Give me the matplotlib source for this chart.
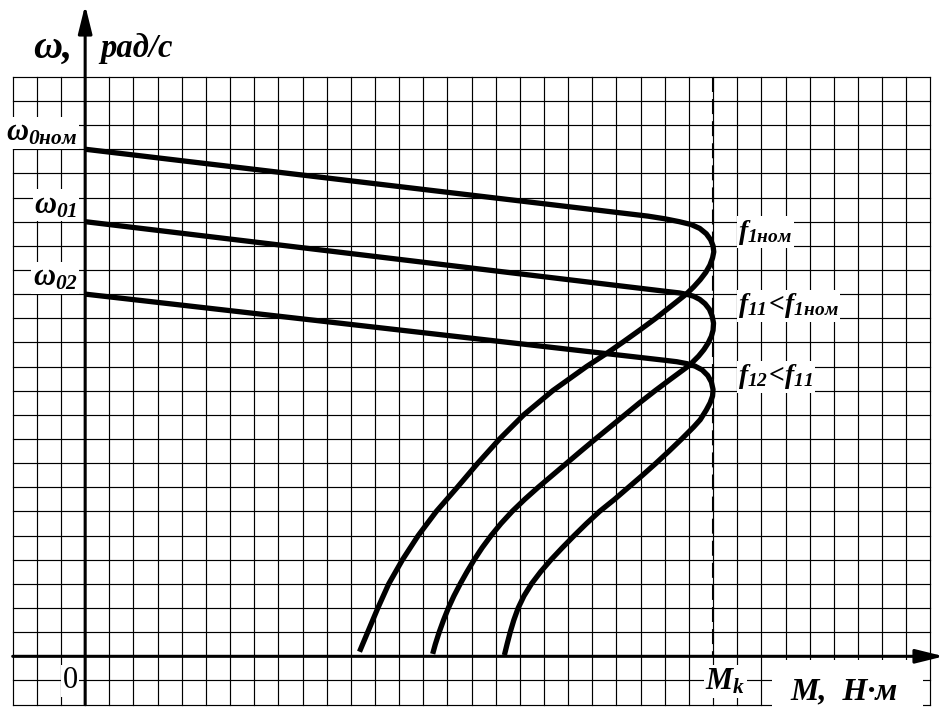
import matplotlib
matplotlib.use("Agg")
import matplotlib.pyplot as plt
from matplotlib.patches import Rectangle

# механические характеристики при частотном регулировании (в клетках сетки)
omega0 = [21, 18, 15]          # ω0ном, ω01, ω02
omega0_labels = [r"$ω_{0ном}$", r"$ω_{01}$", r"$ω_{02}$"]
m_k = 26                       # критический момент

x_f1nom = [0, 23.3, 24.0, 24.6, 25.1, 25.45, 25.72, 25.9, 26.0, 26.03, 25.98,
           25.87, 25.7, 25.47, 25.2, 24.89, 24.26, 23.63, 22.95, 22.25, 21.6,
           20.76, 19.36, 18.16, 17.16, 16.26, 15.41, 14.54, 13.79, 13.14,
           12.57, 12.12, 11.7, 11.36]
y_f1nom = [21, 18.23, 18.12, 18.0, 17.88, 17.72, 17.5, 17.25, 17.0, 16.75, 16.5,
           16.2, 15.9, 15.6, 15.3, 15.0, 14.5, 14.0, 13.5, 13.0, 12.55,
           12.0, 11.0, 10.0, 9.0, 8.0, 7.0, 6.0, 5.0, 4.0,
           3.0, 2.0, 1.0, 0.19]

x_f11 = [0, 24.08, 24.6, 24.92, 25.2, 25.45, 25.67, 25.85, 25.96, 26.02, 26.0,
         25.93, 25.8, 25.62, 25.4, 25.12, 24.95, 24.27, 23.6, 22.96, 22.35,
         21.74, 21.13, 20.53, 19.94, 19.35, 18.76, 18.2, 17.68, 17.22, 16.81,
         16.44, 16.11, 15.81, 15.53, 15.27, 15.04, 14.84, 14.66, 14.5, 14.39]
y_f11 = [18, 15.11, 15.05, 14.99, 14.91, 14.78, 14.6, 14.37, 14.1, 13.8, 13.5,
         13.25, 12.98, 12.7, 12.43, 12.15, 12.0, 11.5, 11.0, 10.5, 10.0,
         9.5, 9.0, 8.5, 8.0, 7.5, 7.0, 6.5, 6.0, 5.5, 5.0,
         4.5, 4.0, 3.5, 3.0, 2.5, 2.0, 1.5, 1.0, 0.5, 0.1]

x_f12 = [0, 24.0, 24.5, 24.92, 25.25, 25.55, 25.78, 25.93, 26.0, 25.98, 25.88,
         25.72, 25.47, 25.2, 24.7, 24.18, 23.64, 23.08, 22.5, 21.92, 21.3,
         20.76, 20.25, 19.76, 19.29, 18.86, 18.48, 18.17, 17.93, 17.75, 17.6,
         17.47, 17.36]
y_f12 = [15, 12.26, 12.2, 12.12, 12.02, 11.86, 11.63, 11.36, 11.05, 10.78, 10.5,
         10.2, 9.8, 9.5, 9.0, 8.5, 8.0, 7.5, 7.0, 6.5, 6.0,
         5.5, 5.0, 4.5, 4.0, 3.5, 3.0, 2.5, 2.0, 1.5, 1.0,
         0.5, 0.05]

curves = [(x_f1nom, y_f1nom), (x_f11, y_f11), (x_f12, y_f12)]
curve_labels = [r"$f_{1ном}$", r"$f_{11}\!<\!f_{1ном}$", r"$f_{12}\!<\!f_{11}$"]
curve_label_y = [17.3, 14.25, 11.3]

plt.rcParams["mathtext.fontset"] = "custom"
plt.rcParams["mathtext.it"] = "Liberation Serif:bold:italic"
plt.rcParams["mathtext.rm"] = "Liberation Serif:bold:italic"
plt.rcParams["mathtext.bf"] = "Liberation Serif:bold:italic"

serif = dict(family="Liberation Serif", weight="bold", style="italic")
wbox = dict(facecolor="white", edgecolor="none", pad=1)

fig = plt.figure(figsize=(9.44, 7.07), dpi=100)
ax = fig.add_axes([0, 0, 1, 1])
ax.set_xlim(-3.526, 35.563)
ax.set_ylim(-2.099, 27.18)
ax.axis("off")

# сетка
for gx in range(-3, 36):
    ax.plot([gx, gx], [-2, 24], color="k", lw=0.85, zorder=1)
for gy in range(-2, 25):
    ax.plot([-3, 35], [gy, gy], color="k", lw=0.85, zorder=1)

# оси со стрелками
arrow = dict(arrowstyle="-|>,head_length=1.7,head_width=0.42", lw=2.2,
             color="k", shrinkA=0, shrinkB=0, mutation_scale=10)
ax.annotate("", xy=(0, 26.97), xytext=(0, -2), arrowprops=arrow, zorder=6)
ax.annotate("", xy=(35.56, 0), xytext=(-3, 0), arrowprops=arrow, zorder=6)

# Mk
ax.plot([m_k, m_k], [24, 0], color="k", lw=1.5, dashes=(7.2, 3.4), zorder=2)

for (xs, ys) in curves:
    ax.plot(xs, ys, color="k", lw=3.8, solid_joinstyle="round",
            solid_capstyle="butt", zorder=4)

for w, lab in zip(omega0, omega0_labels):
    ax.text(-0.31, w + 0.35, lab, fontsize=22, ha="right", va="baseline",
            bbox=wbox, zorder=3)

for yl, lab in zip(curve_label_y, curve_labels):
    ax.text(27.04, yl, lab, fontsize=20, ha="left", va="baseline",
            bbox=wbox, zorder=3)

ax.text(-2.15, 24.8, "ω,", fontsize=29, va="baseline", ha="left", **serif)
ax.text(0.62, 24.8, "рад/с", fontsize=23.5, va="baseline", ha="left", **serif)

ax.text(-0.62, -1.33, "0", fontsize=22, family="Liberation Serif",
        ha="center", va="baseline", bbox=wbox, zorder=3)
ax.text(25.67, -1.39, r"$M_k$", fontsize=22, ha="left", va="baseline",
        bbox=wbox, zorder=3)

ax.add_patch(Rectangle((28.45, -2.2), 6.25, 2.05, facecolor="white",
                       edgecolor="none", zorder=3))
ax.text(29.19, -1.78, "M,  Н·м", fontsize=23, ha="left", va="baseline",
        zorder=4, **serif)

fig.savefig("out.png", dpi=100)
